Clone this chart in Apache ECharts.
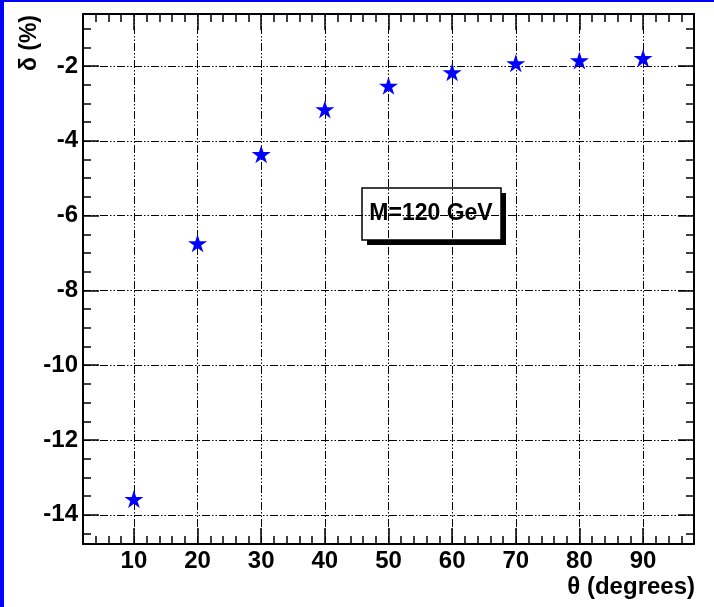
<!DOCTYPE html>
<html>
<head>
<meta charset="utf-8">
<script src="https://cdn.jsdelivr.net/npm/echarts@6/dist/echarts.min.js"></script>
<style>html,body{margin:0;padding:0;background:#fff;}#c{width:714px;height:607px;}</style>
</head>
<body>
<div id="c"></div>
<script>
// ---- data ----
const thetaDeg = [10, 20, 30, 40, 50, 60, 70, 80, 90];
const deltaPct = [-13.58, -6.74, -4.36, -3.16, -2.53, -2.17, -1.93, -1.85, -1.79];
const xMajorTicks = [10, 20, 30, 40, 50, 60, 70, 80, 90];
const yMajorTicks = [-14, -12, -10, -8, -6, -4, -2];
const xRange = [2, 98];
const yRange = [-14.78, -0.61];
const xTitle = 'θ (degrees)';
const yTitle = 'δ (%)';
const boxText = 'M=120 GeV';

const xMinorTicks = [];
for (let v = 4; v <= 96; v += 2) xMinorTicks.push(v);
const yMinorTicks = [];
for (let v = -14.5; v <= -1; v += 0.5) yMinorTicks.push(v);

const FONT = '"Liberation Sans", Arial, Helvetica, sans-serif';
const STAR = 'path://M50,0 L61.2,34.5 L97.6,34.5 L68.2,55.9 L79.4,90.5 L50,69.1 L20.6,90.5 L31.8,55.9 L2.4,34.5 L38.8,34.5 Z';

function xAx(pos, ticks, len, showLine, showLabel) {
  return {
    type: 'value', position: pos, min: xRange[0], max: xRange[1],
    axisLine: {show: showLine, onZero: false, lineStyle: {color: '#000', width: 2}},
    axisTick: {show: true, inside: true, length: len, customValues: ticks, lineStyle: {color: '#000', width: 1.5}},
    axisLabel: {show: showLabel, customValues: ticks, margin: 5, color: '#000', fontFamily: FONT, fontWeight: 'bold', fontSize: 24},
    splitLine: {show: false}
  };
}
function yAx(pos, ticks, len, showLine, showLabel) {
  return {
    type: 'value', position: pos, min: yRange[0], max: yRange[1],
    axisLine: {show: showLine, onZero: false, lineStyle: {color: '#000', width: 2}},
    axisTick: {show: true, inside: true, length: len, customValues: ticks, lineStyle: {color: '#000', width: 1.5}},
    axisLabel: {show: showLabel, customValues: ticks, margin: 5, color: '#000', fontFamily: FONT, fontWeight: 'bold', fontSize: 24},
    splitLine: {show: false}
  };
}

const gridDash = [8, 2, 1.5, 2, 1.5, 2];
const markData = xMajorTicks.map(v => ({xAxis: v})).concat(yMajorTicks.map(v => ({yAxis: v})));

const chart = echarts.init(document.getElementById('c'), null, {renderer: 'canvas'});
chart.setOption({
  animation: false,
  backgroundColor: '#fff',
  grid: {left: 83, top: 14, right: 20, bottom: 63, containLabel: false},
  xAxis: [
    xAx('bottom', xMajorTicks, 16, true, true),
    xAx('bottom', xMinorTicks, 8, false, false),
    xAx('top', xMajorTicks, 16, true, false),
    xAx('top', xMinorTicks, 8, false, false)
  ],
  yAxis: [
    yAx('left', yMajorTicks, 16, true, true),
    yAx('left', yMinorTicks, 8, false, false),
    yAx('right', yMajorTicks, 16, true, false),
    yAx('right', yMinorTicks, 8, false, false)
  ],
  series: [{
    type: 'scatter',
    xAxisIndex: 0, yAxisIndex: 0,
    data: thetaDeg.map((x, i) => [x, deltaPct[i]]),
    symbol: STAR,
    symbolSize: [19, 18],
    itemStyle: {color: '#0000ff', opacity: 1},
    z: 5,
    markLine: {
      silent: true, symbol: 'none', animation: false,
      label: {show: false},
      lineStyle: {color: '#000', width: 1, type: gridDash},
      emphasis: {disabled: true},
      data: markData
    }
  }],
  graphic: [
    {type: 'rect', shape: {x: 0, y: 0, width: 4, height: 607}, style: {fill: '#0000ff'}},
    {type: 'rect', shape: {x: 0, y: 0, width: 714, height: 2}, style: {fill: '#0000ff'}},
    {type: 'rect', shape: {x: 367, y: 240, width: 139, height: 5}, style: {fill: '#000'}},
    {type: 'rect', shape: {x: 501, y: 193, width: 5, height: 52}, style: {fill: '#000'}},
    {type: 'rect', shape: {x: 362, y: 188, width: 139, height: 52}, style: {fill: 'none', stroke: '#000', lineWidth: 1.5}},
    {type: 'text', x: 431, y: 214, style: {text: boxText, align: 'center', verticalAlign: 'middle', fill: '#000', font: 'bold 23px ' + FONT}},
    {type: 'text', x: 695, y: 587, style: {text: xTitle, align: 'right', verticalAlign: 'middle', fill: '#000', font: 'bold 24px ' + FONT}},
    {type: 'text', x: 30, y: 15, rotation: Math.PI / 2, style: {text: yTitle, align: 'right', verticalAlign: 'middle', fill: '#000', font: 'bold 23px ' + FONT}}
  ]
});
</script>
</body>
</html>
